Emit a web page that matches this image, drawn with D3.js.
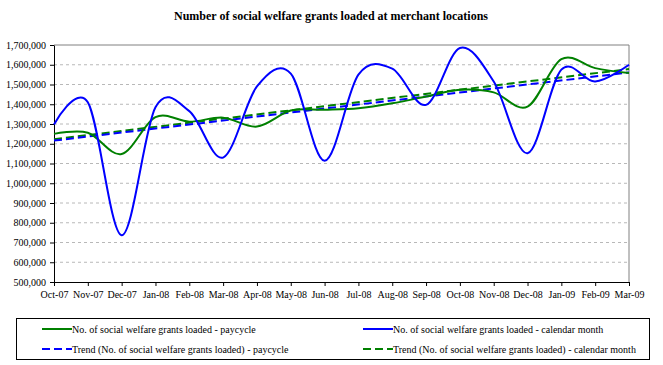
<!DOCTYPE html>
<html>
<head>
<meta charset="utf-8">
<script src="https://cdn.jsdelivr.net/npm/d3@7"></script>
<style>
  body { margin: 0; background: #fff; }
  svg { display: block; }
  text { font-family: "Liberation Serif", "Times New Roman", serif; fill: #000; }
</style>
</head>
<body>
<svg width="663" height="365"></svg>
<script>

const months = ['Oct-07', 'Nov-07', 'Dec-07', 'Jan-08', 'Feb-08', 'Mar-08', 'Apr-08', 'May-08', 'Jun-08',
    'Jul-08', 'Aug-08', 'Sep-08', 'Oct-08', 'Nov-08', 'Dec-08', 'Jan-09', 'Feb-09', 'Mar-09'];

// No. of social welfare grants loaded - paycycle
const paycycle = [1250000, 1256000, 1148000, 1335000, 1312000, 1332000, 1287000, 1368000, 1372000,
    1380000, 1405000, 1439000, 1473000, 1460000, 1388000, 1628000, 1583000, 1558000];

// No. of social welfare grants loaded - calendar month
const calendar = [1298000, 1410000, 737000, 1385000, 1365000, 1130000, 1490000, 1555000, 1114000,
    1550000, 1580000, 1397000, 1685000, 1515000, 1152000, 1575000, 1515000, 1600000];

// trend lines (first and last month)
const trendPaycycle = [1216000, 1561000];
const trendCalendar = [1223000, 1578000];

const yTicks = [500000, 600000, 700000, 800000, 900000, 1000000, 1100000, 1200000,
    1300000, 1400000, 1500000, 1600000, 1700000];

const svg = d3.select('svg');

const plotL = 54, plotR = 629, plotT = 45, plotB = 282;

const x = d3.scalePoint().domain(months).range([plotL, plotR]);
const y = d3.scaleLinear().domain([500000, 1700000]).range([plotB, plotT]);

// title
svg.append('text')
    .attr('x', 331)
    .attr('y', 20)
    .attr('text-anchor', 'middle')
    .attr('font-size', 12)
    .attr('font-weight', 'bold')
    .text('Number of social welfare grants loaded at merchant locations');

// gridlines
svg.append('g')
    .selectAll('line')
    .data(yTicks.slice(1, -1))
    .enter()
    .append('line')
        .attr('x1', plotL)
        .attr('x2', plotR)
        .attr('y1', d => y(d))
        .attr('y2', d => y(d))
        .attr('stroke', '#b8b8b8')
        .attr('stroke-dasharray', '3,3');

// plot border top / right
svg.append('path')
    .attr('d', `M${plotL},${y(1700000)}H${plotR}V${plotB}`)
    .attr('fill', 'none')
    .attr('stroke', '#808080');

// axes
const yAxis = svg.append('g')
    .attr('transform', `translate(${plotL},0)`)
    .call(d3.axisLeft(y).tickValues(yTicks).tickSize(4).tickSizeOuter(0).tickPadding(4).tickFormat(d3.format(',')));

const xAxis = svg.append('g')
    .attr('transform', `translate(0,${plotB})`)
    .call(d3.axisBottom(x).tickSize(4).tickSizeOuter(0).tickPadding(5));

[yAxis, xAxis].forEach(ax => {
    ax.selectAll('text').attr('font-size', 10).attr('font-family', '"Liberation Serif", serif');
    ax.select('.domain').attr('stroke', '#000');
    ax.selectAll('line').attr('stroke', '#000');
});

// lines
const line = d3.line()
    .x((d, i) => x(months[i]))
    .y(d => y(d))
    .curve(d3.curveCardinal.tension(0));

const trend = d3.line()
    .x((d, i) => i === 0 ? x(months[0]) : x(months[months.length - 1]))
    .y(d => y(d));

svg.append('path')
    .attr('d', trend(trendCalendar))
    .attr('fill', 'none')
    .attr('stroke', '#008000')
    .attr('stroke-width', 2)
    .attr('stroke-dasharray', '8,4');

svg.append('path')
    .attr('d', trend(trendPaycycle))
    .attr('fill', 'none')
    .attr('stroke', '#0000ff')
    .attr('stroke-width', 2)
    .attr('stroke-dasharray', '8,4');

svg.append('path')
    .attr('d', line(paycycle))
    .attr('fill', 'none')
    .attr('stroke', '#008000')
    .attr('stroke-width', 2);

svg.append('path')
    .attr('d', line(calendar))
    .attr('fill', 'none')
    .attr('stroke', '#0000ff')
    .attr('stroke-width', 2);

// legend
const legendItems = [
    {label: 'No. of social welfare grants loaded - paycycle', color: '#008000', dash: null, col: 0, row: 0},
    {label: 'No. of social welfare grants loaded - calendar month', color: '#0000ff', dash: null, col: 1, row: 0},
    {label: 'Trend (No. of social welfare grants loaded) - paycycle', color: '#0000ff', dash: '8,4', col: 0, row: 1},
    {label: 'Trend (No. of social welfare grants loaded) - calendar month', color: '#008000', dash: '8,4', col: 1, row: 1}
];

svg.append('rect')
    .attr('x', 16.5)
    .attr('y', 318.5)
    .attr('width', 633)
    .attr('height', 41)
    .attr('fill', 'none')
    .attr('stroke', '#000');

const legend = svg.selectAll('.legend')
    .data(legendItems)
    .enter()
    .append('g')
        .attr('class', 'legend')
        .attr('transform', d => `translate(${d.col ? 363 : 42},${d.row ? 349 : 329})`);

legend.append('line')
    .attr('x1', 0)
    .attr('x2', 30)
    .attr('stroke', d => d.color)
    .attr('stroke-width', 2)
    .attr('stroke-dasharray', d => d.dash);

legend.append('text')
    .attr('x', 30)
    .attr('dy', '0.35em')
    .attr('font-size', 10)
    .text(d => d.label);

</script>
</body>
</html>
